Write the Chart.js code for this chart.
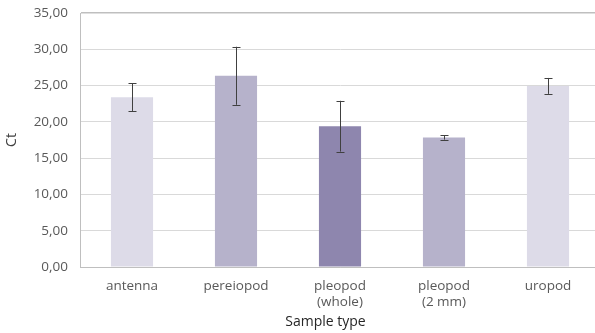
<!DOCTYPE html>
<html>
<head>
<meta charset="utf-8">
<script src="https://cdn.jsdelivr.net/npm/chart.js@4/dist/chart.umd.min.js"></script>
<style>
  html, body { margin: 0; padding: 0; background: #fff; overflow: hidden; }
  #wrap { width: 600px; height: 333px; }
</style>
</head>
<body>
<div id="wrap"><canvas id="c" width="600" height="333"></canvas></div>
<script>
const categories = [["antenna"], ["pereiopod"], ["pleopod", "(whole)"], ["pleopod", "(2 mm)"], ["uropod"]];
const ctMeans = [23.40, 26.35, 19.40, 17.85, 24.95];
const ctErrors = [1.90, 4.00, 3.50, 0.30, 1.10];
const barColors = ["#dddbe8", "#b6b2cb", "#8e86ae", "#b6b2cb", "#dddbe8"];
const yTicks = [0, 5, 10, 15, 20, 25, 30, 35];

const fontFamily = "'Open Sans', sans-serif";

const errorBarPlugin = {
  id: 'errorBars',
  afterDatasetsDraw(chart) {
    const ctx = chart.ctx;
    const yScale = chart.scales.y;
    const meta = chart.getDatasetMeta(0);
    ctx.save();
    ctx.strokeStyle = '#404040';
    ctx.lineWidth = 1;
    meta.data.forEach((bar, i) => {
      const x = Math.round(bar.x) + 0.5;
      const yTop = yScale.getPixelForValue(ctMeans[i] + ctErrors[i]);
      const yBot = yScale.getPixelForValue(ctMeans[i] - ctErrors[i]);
      ctx.beginPath();
      ctx.moveTo(x, yTop);
      ctx.lineTo(x, yBot);
      ctx.moveTo(x - 4, Math.round(yTop) + 0.5);
      ctx.lineTo(x + 4, Math.round(yTop) + 0.5);
      ctx.moveTo(x - 4, Math.round(yBot) + 0.5);
      ctx.lineTo(x + 4, Math.round(yBot) + 0.5);
      ctx.stroke();
    });
    ctx.restore();
  }
};

new Chart(document.getElementById('c'), {
  type: 'bar',
  data: {
    labels: categories,
    datasets: [{
      data: ctMeans,
      backgroundColor: barColors,
      borderWidth: 0,
      categoryPercentage: 1,
      barPercentage: 0.405
    }]
  },
  options: {
    responsive: false,
    animation: false,
    devicePixelRatio: 1,
    layout: { padding: { top: 13, right: 0, bottom: 0, left: 0 } },
    plugins: { legend: { display: false }, tooltip: { enabled: false } },
    scales: {
      x: {
        grid: { display: false, drawTicks: false },
        border: { display: true, color: '#bfbfbf', width: 1 },
        ticks: {
          color: '#595959',
          font: { family: fontFamily, size: 13.5, lineHeight: 1.2 },
          padding: 11,
          maxRotation: 0,
          autoSkip: false
        },
        title: {
          display: true,
          text: 'Sample type        ',
          color: '#262626',
          font: { family: fontFamily, size: 14 },
          padding: { top: 0, bottom: 3 }
        },
        afterFit(scale) { scale.height = 66; scale.paddingLeft = 0; scale.paddingRight = 0; }
      },
      y: {
        min: 0,
        max: 35,
        afterBuildTicks(scale) { scale.ticks = yTicks.map(v => ({ value: v })); },
        grid: {
          drawTicks: false,
          color: (c) => (c.tick && (c.tick.value === 35 || c.tick.value === 0)) ? '#bfbfbf' : '#d9d9d9',
          lineWidth: (c) => (c.tick && c.tick.value === 35) ? 1.5 : 1
        },
        border: { display: true, color: '#bfbfbf', width: 1 },
        ticks: {
          color: '#595959',
          font: { family: fontFamily, size: 13.5 },
          padding: 12,
          callback: (v) => Number(v).toFixed(2).replace('.', ',')
        },
        title: {
          display: true,
          text: 'Ct',
          color: '#404040',
          font: { family: fontFamily, size: 14 },
          padding: { top: 4, bottom: 0 }
        },
        afterFit(scale) { scale.width = 80; scale.paddingTop = 0; scale.paddingBottom = 0; }
      }
    }
  },
  plugins: [errorBarPlugin]
});
</script>
</body>
</html>
